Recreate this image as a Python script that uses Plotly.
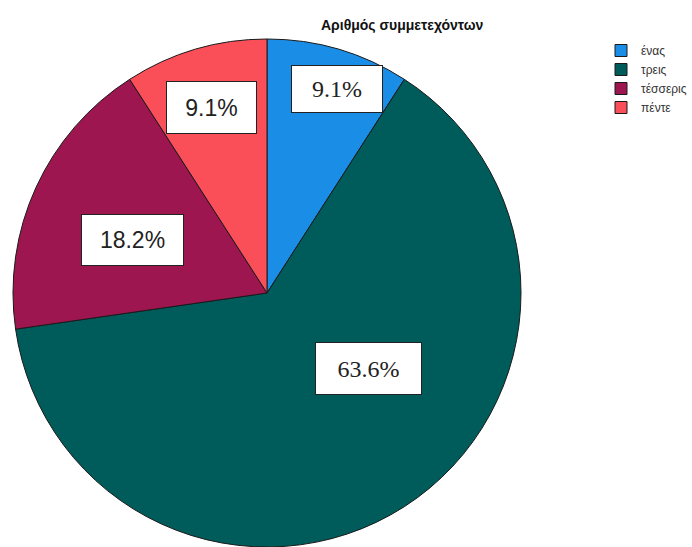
import math
import plotly.graph_objects as go

# Participants per group
categories = ["ένας", "τρεις", "τέσσερις", "πέντε"]
counts = [1, 7, 2, 1]
colors = ["#1a8ee6", "#005b5b", "#9d1650", "#fa4e59"]

W, H = 692, 547
cx, cy, R = 267, 293, 254  # pie centre and radius in pixels

# Label placement: radial fraction and angular nudge (degrees) per slice
label_r = [0.85, 0.50, 0.57, 0.76]
label_shift = [2.5, -20.7, -3.1, -0.2]
label_fonts = ["Liberation Serif", "Liberation Serif", "Liberation Sans", "Liberation Sans"]
label_sizes = [(92, 48), (107, 53), (103, 52), (91, 53)]

total = sum(counts)

fig = go.Figure(
    go.Pie(
        labels=categories,
        values=counts,
        sort=False,
        direction="clockwise",
        rotation=0,
        marker=dict(colors=colors, line=dict(color="#1a1a1a", width=1)),
        textinfo="none",
        hoverinfo="label+percent",
        domain=dict(
            x=[(cx - R) / W, (cx + R) / W],
            y=[(H - cy - R) / H, (H - cy + R) / H],
        ),
    )
)

annotations = []
start = 0.0
for i, v in enumerate(counts):
    span = 360.0 * v / total
    mid = start + span / 2 + label_shift[i]
    start += span
    a = math.radians(mid)
    px = cx + label_r[i] * R * math.sin(a)
    py = cy - label_r[i] * R * math.cos(a)
    pct = 100.0 * v / total
    w, h = label_sizes[i]
    annotations.append(
        dict(
            x=px / W, y=1 - py / H, xref="paper", yref="paper",
            text=f"{pct:.1f}%", showarrow=False,
            font=dict(family=label_fonts[i], size=24 if "Serif" in label_fonts[i] else 23, color="#222222"),
            bgcolor="white", bordercolor="#222222", borderwidth=1,
            borderpad=0, width=w - 2, height=h - 2,
            xanchor="center", yanchor="middle",
        )
    )

annotations.append(
    dict(
        x=402 / W, y=1 - 25 / H, xref="paper", yref="paper",
        text="<b>Αριθμός συμμετεχόντων</b>", showarrow=False,
        font=dict(family="Liberation Sans", size=14, color="#111111"),
        xanchor="center", yanchor="middle",
    )
)

fig.update_layout(
    width=W, height=H,
    margin=dict(l=0, r=0, t=0, b=0, autoexpand=False),
    paper_bgcolor="white",
    plot_bgcolor="white",
    annotations=annotations,
    showlegend=True,
    legend=dict(
        x=601 / W, y=1 - 36 / H, xanchor="left", yanchor="top",
        xref="paper", yref="paper",
        font=dict(family="Liberation Sans", size=12, color="#333333"),
        bgcolor="rgba(0,0,0,0)", itemwidth=30, tracegroupgap=0,
    ),
)

fig.write_html("out.html")
